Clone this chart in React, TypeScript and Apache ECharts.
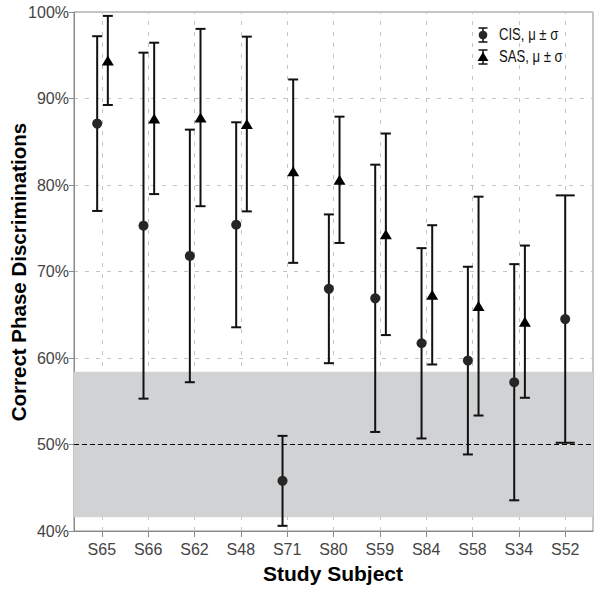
import React, { useEffect, useRef } from "react";
import * as echarts from "echarts";

const subjects = ["S65", "S66", "S62", "S48", "S71", "S80", "S59", "S84", "S58", "S34", "S52"];
const cisMean = [87.1, 75.3, 71.8, 75.4, 45.8, 68.0, 66.9, 61.7, 59.7, 57.2, 64.5];
const cisSd = [10.1, 20.0, 14.6, 11.85, 5.2, 8.6, 15.45, 11.0, 10.85, 13.65, 14.3];
const sasMean: (number | null)[] = [94.4, 87.7, 87.8, 87.05, 81.6, 80.6, 74.3, 67.3, 66.0, 64.2, null];
const sasSd: (number | null)[] = [5.15, 8.75, 10.25, 10.1, 10.6, 7.3, 11.65, 8.05, 12.65, 8.8, null];
const chanceBand = [41.6, 58.4];
const chanceLevel = 50;
const yMin = 40;
const yMax = 100;
const yStep = 10;

const CIS_OFF = -0.1;
const SAS_OFF = 0.13;
const LABEL_FONT = "'Liberation Sans', Arial, sans-serif";
const BOLD_FONT = "'Liberation Sans', Arial, sans-serif";

export default function App() {
  const ref = useRef<HTMLDivElement>(null);

  useEffect(() => {
    if (!ref.current) return;
    const chart = echarts.init(ref.current, undefined, { renderer: "svg" });
    const positions = subjects.map((_, i) => i + 1);

    const cisPts: number[][] = [];
    const sasPts: number[][] = [];
    const bars: number[][] = [];
    subjects.forEach((_, i) => {
      const hasSas = sasMean[i] != null;
      const cx = positions[i] + (hasSas ? CIS_OFF : 0);
      cisPts.push([cx, cisMean[i]]);
      bars.push([cx, cisMean[i] - cisSd[i], cisMean[i] + cisSd[i], hasSas ? 0 : 1]);
      if (hasSas) {
        const sx = positions[i] + SAS_OFF;
        const m = sasMean[i] as number;
        const s = sasSd[i] as number;
        sasPts.push([sx, m]);
        bars.push([sx, m - s, m + s, 0]);
      }
    });

    const barColor = "#111";
    const lgX = 483;
    const lgY1 = 35;
    const lgY2 = 57;
    const legendLine = (x1: number, y1: number, x2: number, y2: number) => ({
      type: "line",
      shape: { x1, y1, x2, y2 },
      style: { stroke: barColor, lineWidth: 1.5 },
    });
    const legendText = (text: string, y: number) => ({
      type: "text",
      x: 499,
      y,
      scaleX: 0.82,
      style: { text, font: `16px ${LABEL_FONT}`, fill: "#111", verticalAlign: "middle" },
    });

    const option: any = {
      animation: false,
      grid: {
        left: 74,
        right: 7,
        top: 12,
        bottom: 60,
        show: true,
        borderColor: "#8a8a8a",
        borderWidth: 1,
      },
      xAxis: {
        type: "value",
        min: 0.4,
        max: 11.6,
        axisLine: { show: true, lineStyle: { color: "#8a8a8a" } },
        axisTick: { show: true, customValues: positions, length: 6, lineStyle: { color: "#8a8a8a" } },
        axisLabel: {
          customValues: positions,
          formatter: (v: number) => subjects[Math.round(v) - 1] ?? "",
          color: "#444",
          fontSize: 16,
          fontFamily: LABEL_FONT,
          margin: 10,
        },
        splitLine: { show: false },
      },
      yAxis: {
        type: "value",
        min: yMin,
        max: yMax,
        interval: yStep,
        axisLine: { show: true, lineStyle: { color: "#8a8a8a" } },
        axisTick: { show: true, length: 5, lineStyle: { color: "#8a8a8a" } },
        axisLabel: {
          formatter: "{value}%",
          color: "#444",
          fontSize: 16,
          fontFamily: LABEL_FONT,
          margin: 5,
        },
        splitLine: { show: true, lineStyle: { color: "#c4c4c4", type: [4, 7], width: 1 } },
      },
      graphic: [
        {
          type: "text",
          x: 18,
          y: 272,
          rotation: Math.PI / 2,
          style: {
            text: "Correct Phase Discriminations",
            font: `bold 20.5px ${BOLD_FONT}`,
            fill: "#000",
            align: "center",
            verticalAlign: "middle",
          },
        },
        {
          type: "text",
          x: 333,
          y: 573,
          style: {
            text: "Study Subject",
            font: `bold 21px ${BOLD_FONT}`,
            fill: "#000",
            align: "center",
            verticalAlign: "middle",
          },
        },
        legendLine(lgX, lgY1 - 7, lgX, lgY1 + 7),
        legendLine(lgX - 4.5, lgY1 - 7, lgX + 4.5, lgY1 - 7),
        legendLine(lgX - 4.5, lgY1 + 7, lgX + 4.5, lgY1 + 7),
        { type: "circle", shape: { cx: lgX, cy: lgY1, r: 4.3 }, style: { fill: "#262626" } },
        legendText("CIS, μ ± σ", lgY1),
        legendLine(lgX, lgY2 - 7, lgX, lgY2 + 7),
        legendLine(lgX - 4.5, lgY2 - 7, lgX + 4.5, lgY2 - 7),
        legendLine(lgX - 4.5, lgY2 + 7, lgX + 4.5, lgY2 + 7),
        { type: "polygon", shape: { points: [[lgX, lgY2 - 5], [lgX + 5.5, lgY2 + 4], [lgX - 5.5, lgY2 + 4]] }, style: { fill: "#000" } },
        legendText("SAS, μ ± σ", lgY2),
      ],
      series: [
        {
          type: "scatter",
          data: [],
          z: 1,
          silent: true,
          markLine: {
            z: 1,
            silent: true,
            symbol: "none",
            label: { show: false },
            lineStyle: { color: "#c4c4c4", type: [4, 7], width: 1 },
            data: positions.map((p) => ({ xAxis: p })),
          },
        },
        {
          type: "scatter",
          data: [],
          z: 2,
          silent: true,
          markArea: {
            z: 2,
            silent: true,
            itemStyle: { color: "#d1d2d4" },
            data: [[{ yAxis: chanceBand[0] }, { yAxis: chanceBand[1] }]],
          },
        },
        {
          type: "scatter",
          data: [],
          z: 3,
          silent: true,
          markLine: {
            z: 3,
            silent: true,
            symbol: "none",
            label: { show: false },
            lineStyle: { color: "#000", type: [5, 3], width: 1 },
            data: [{ yAxis: chanceLevel }],
          },
        },
        {
          type: "custom",
          z: 4,
          silent: true,
          encode: { x: 0, y: [1, 2] },
          data: bars,
          renderItem: (params: any, api: any) => {
            const x = api.value(0);
            const lo = api.coord([x, api.value(1)]);
            const hi = api.coord([x, api.value(2)]);
            const hw = api.value(3) ? 9.5 : 5;
            const st = { stroke: barColor, lineWidth: 2 };
            return {
              type: "group",
              children: [
                { type: "line", shape: { x1: lo[0], y1: lo[1], x2: hi[0], y2: hi[1] }, style: st },
                { type: "line", shape: { x1: lo[0] - hw, y1: lo[1], x2: lo[0] + hw, y2: lo[1] }, style: st },
                { type: "line", shape: { x1: hi[0] - hw, y1: hi[1], x2: hi[0] + hw, y2: hi[1] }, style: st },
              ],
            };
          },
        },
        {
          name: "CIS",
          type: "scatter",
          z: 5,
          data: cisPts,
          symbol: "circle",
          symbolSize: 10,
          itemStyle: { color: "#262626", opacity: 1 },
        },
        {
          name: "SAS",
          type: "scatter",
          z: 5,
          data: sasPts,
          symbol: "triangle",
          symbolSize: [12, 10],
          itemStyle: { color: "#000", opacity: 1 },
        },
      ],
    };
    chart.setOption(option);
    return () => chart.dispose();
  }, []);

  return <div ref={ref} style={{ position: "absolute", left: 0, top: 0, width: 600, height: 591 }} />;
}
